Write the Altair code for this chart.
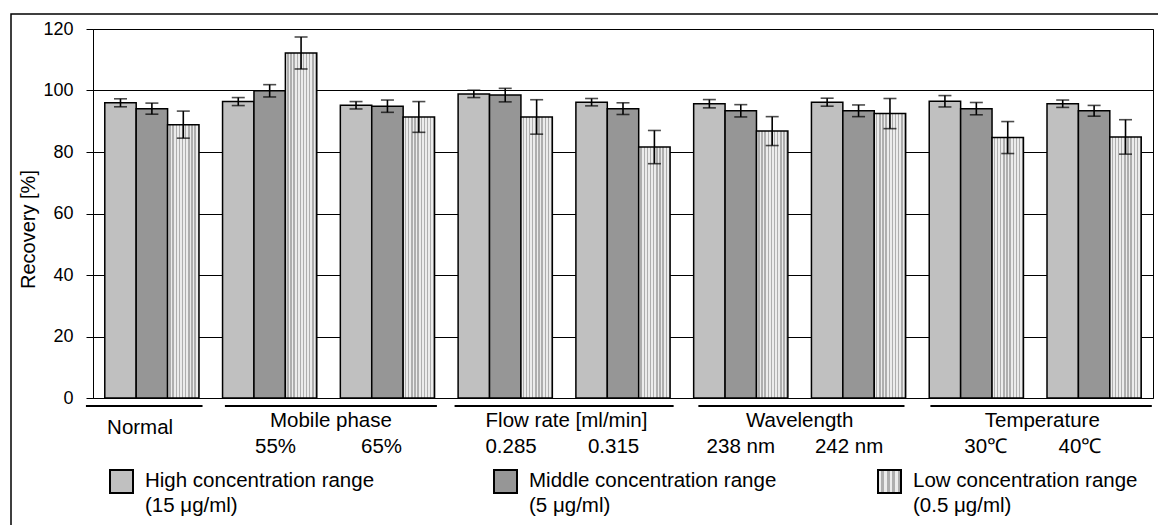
import altair as alt
import pandas as pd

FONT = "Liberation Sans"

# Test conditions (one group of three bars each) and concentration ranges
conditions = ["Normal", "Mobile 55%", "Mobile 65%", "Flow 0.285", "Flow 0.315",
              "WL 238", "WL 242", "Temp 30", "Temp 40"]
series = ["High", "Middle", "Low"]

# Recovery [%] and error (+/-) per condition
high = [96.0, 96.4, 95.2, 98.9, 96.2, 95.7, 96.2, 96.5, 95.7]
high_err = [1.3, 1.3, 1.2, 1.2, 1.2, 1.35, 1.3, 1.85, 1.2]
middle = [94.1, 99.9, 94.9, 98.5, 94.1, 93.4, 93.4, 94.1, 93.4]
middle_err = [1.8, 2.0, 2.0, 2.2, 1.9, 2.0, 1.9, 2.0, 1.75]
low = [88.9, 112.2, 91.4, 91.4, 81.6, 86.8, 92.5, 84.7, 84.9]
low_err = [4.4, 5.2, 5.0, 5.6, 5.4, 4.7, 4.9, 5.2, 5.6]

# x-axis annotation text
group_names = ["Normal", "Mobile phase", "Flow rate [ml/min]", "Wavelength", "Temperature"]
sub_labels = ["55%", "65%", "0.285", "0.315", "238 nm", "242 nm", "30\u2103", "40\u2103"]

# Legend text
legend_line1 = ["High concentration range", "Middle concentration range", "Low concentration range"]
legend_line2 = ["(15 \u03bcg/ml)", "(5 \u03bcg/ml)", "(0.5 \u03bcg/ml)"]

# ---- layout (slot units: one slot per condition, 0..9) ----
underline_start = [-0.06, 1.12, 3.07, 5.14, 7.11]
underline_end = [0.93, 2.92, 4.93, 6.89, 8.99]
group_label_pos = [0.40, 2.02, 4.02, 6.0, 8.06]
group_label_y = [399, 392, 392, 392, 392]
sub_label_pos = [1.55, 2.45, 3.55, 4.42, 5.5, 6.42, 7.58, 8.38]
legend_x = [17, 401, 785]          # swatch left edges, view pixels
W, H = 1060, 369

rows = []
for i, c in enumerate(conditions):
    for s, vals, errs in zip(series, [high, middle, low], [high_err, middle_err, low_err]):
        rows.append({"condition": c, "series": s, "value": vals[i],
                     "lo": vals[i] - errs[i], "hi": vals[i] + errs[i]})
df = pd.DataFrame(rows)


def stripes(n, light="#ececec", dark="#aeaeae", frac=0.55):
    stops = []
    for k in range(n):
        a, b, c = k / n, (k + frac) / n, (k + 1) / n
        stops += [alt.GradientStop(color=light, offset=a), alt.GradientStop(color=light, offset=b),
                  alt.GradientStop(color=dark, offset=b), alt.GradientStop(color=dark, offset=c)]
    return alt.LinearGradient(gradient="linear", stops=stops, x1=0, x2=1, y1=0, y2=0)


xband = alt.X("condition:N", sort=conditions, axis=None,
              scale=alt.Scale(domain=conditions, paddingInner=0.2, paddingOuter=0.1))
xoff = alt.XOffset("series:N", scale=alt.Scale(domain=series, paddingInner=0, paddingOuter=0))
yaxis = alt.Axis(values=[0, 20, 40, 60, 80, 100, 120], grid=True, gridColor="black",
                 gridOpacity=1, gridWidth=1, domainColor="black", domainWidth=1,
                 tickColor="black", tickSize=7, tickWidth=1,
                 labelFont=FONT, labelFontSize=18, labelColor="black", labelPadding=13,
                 title="Recovery [%]", titleFont=FONT, titleFontSize=20,
                 titleFontWeight="normal", titleColor="black",
                 titleX=-65, titleY=200, titleAngle=270, titleAlign="center",
                 titleBaseline="middle")
yscale = alt.Scale(domain=[0, 120], nice=False)

base = alt.Chart(df)
fill_scale = alt.Scale(domain=series, range=["#c0c0c0", "#969696", "#e4e4e4"])

bars = base.transform_filter(alt.datum.series != "Low").mark_bar(
    stroke="black", strokeWidth=1.5).encode(
    x=xband, xOffset=xoff,
    y=alt.Y("value:Q", scale=yscale, axis=yaxis),
    fill=alt.Fill("series:N", scale=fill_scale, legend=None))

bars_low = base.transform_filter(alt.datum.series == "Low").mark_bar(
    stroke="black", strokeWidth=1.5, fill=stripes(10)).encode(
    x=xband, xOffset=xoff, y=alt.Y("value:Q", scale=yscale))

err = base.mark_rule(color="black", strokeWidth=1.6).encode(
    x=xband, xOffset=xoff, y=alt.Y("lo:Q", scale=yscale), y2="hi:Q")
cap_lo = base.mark_tick(color="black", thickness=1.6, size=13).encode(
    x=xband, xOffset=xoff, y=alt.Y("lo:Q", scale=yscale))
cap_hi = base.mark_tick(color="black", thickness=1.6, size=13).encode(
    x=xband, xOffset=xoff, y=alt.Y("hi:Q", scale=yscale))

plot = alt.layer(bars, bars_low, err, cap_lo, cap_hi)

# ---- annotations below the plot on a slot scale ----
slot = alt.Scale(domain=[0, 9], nice=False, zero=False)
under_df = pd.DataFrame({"x0": underline_start, "x1": underline_end})
underlines = alt.Chart(under_df).mark_rule(color="black", strokeWidth=1.8).encode(
    x=alt.X("x0:Q", scale=slot, axis=None), x2="x1:Q", y=alt.value(377))

glab_df = pd.DataFrame({"name": group_names, "pos": group_label_pos, "ly": group_label_y})
glabels = alt.Chart(glab_df).mark_text(font=FONT, fontSize=20.5, color="black",
                                       baseline="middle").encode(
    x=alt.X("pos:Q", scale=slot, axis=None), y=alt.Y("ly:Q", scale=None), text="name:N")

sub_df = pd.DataFrame({"name": sub_labels, "pos": sub_label_pos})
slabels = alt.Chart(sub_df).mark_text(font=FONT, fontSize=20.5, color="black",
                                      baseline="middle").encode(
    x=alt.X("pos:Q", scale=slot, axis=None), y=alt.value(418), text="name:N")

annot = alt.layer(underlines, glabels, slabels)

# ---- legend ----
leg_df = pd.DataFrame({"series": series, "l1": legend_line1, "l2": legend_line2,
                       "sx": [x + 11.5 for x in legend_x], "tx": [x + 35 for x in legend_x]})
leg_sw = alt.Chart(leg_df).transform_filter(alt.datum.series != "Low").mark_square(
    size=529, stroke="black", strokeWidth=2, opacity=1).encode(
    x=alt.X("sx:Q", scale=None), y=alt.value(452.5),
    fill=alt.Fill("series:N", scale=fill_scale, legend=None))
leg_sw_low = alt.Chart(leg_df).transform_filter(alt.datum.series == "Low").mark_square(
    size=529, stroke="black", strokeWidth=2, opacity=1, fill=stripes(4, frac=0.5)).encode(
    x=alt.X("sx:Q", scale=None), y=alt.value(452.5))
leg_t1 = alt.Chart(leg_df).mark_text(font=FONT, fontSize=20.5, color="black", align="left",
                                     baseline="middle").encode(
    x=alt.X("tx:Q", scale=None), y=alt.value(452), text="l1:N")
leg_t2 = alt.Chart(leg_df).mark_text(font=FONT, fontSize=20.5, color="black", align="left",
                                     baseline="middle").encode(
    x=alt.X("tx:Q", scale=None), y=alt.value(476.5), text="l2:N")
legend = alt.layer(leg_sw, leg_sw_low, leg_t1, leg_t2)

# outer frame of the figure
frame = alt.Chart(pd.DataFrame({"k": [0]})).mark_rect(
    fill="transparent", stroke="black", strokeWidth=1.5).encode(
    x=alt.value(-82), x2=alt.value(1400), y=alt.value(-15), y2=alt.value(800))

chart = alt.layer(frame, plot, annot, legend).resolve_scale(x="independent").properties(
    width=W, height=H,
    padding={"left": 93, "top": 29, "right": 5, "bottom": 127},
    autosize=alt.AutoSizeParams(type="none"),
    background="white",
).configure_view(stroke="black", strokeWidth=1)

chart.save("out.html", embed_options={"renderer": "svg", "actions": False})
